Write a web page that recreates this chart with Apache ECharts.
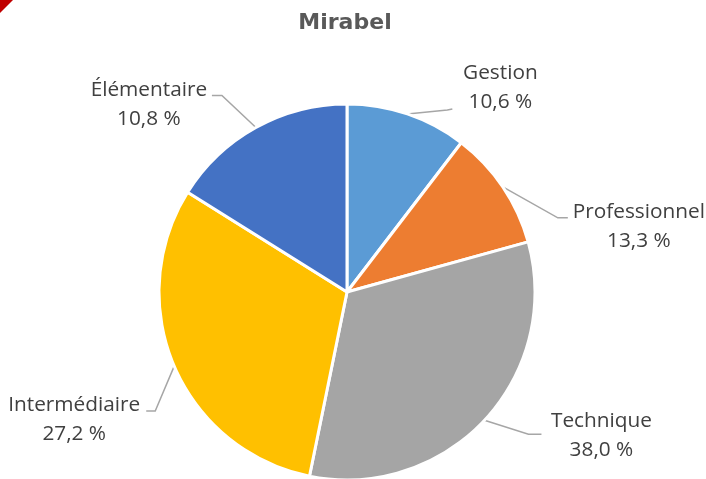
<!DOCTYPE html>
<html>
<head>
<meta charset="utf-8">
<script src="https://cdn.jsdelivr.net/npm/echarts@6/dist/echarts.min.js"></script>
<style>html,body{margin:0;padding:0;background:#fff;}#c{width:706px;height:479px;}</style>
</head>
<body>
<div id="c"></div>
<script>
// Data
const titleText = 'Mirabel';
const categories = ['Gestion', 'Professionnel', 'Technique', 'Intermédiaire', 'Élémentaire'];
// slice sizes as drawn in the picture (angles)
const values = [10.4, 10.3, 32.5, 30.7, 16.1];
// percentage labels as printed in the picture
const shareLabels = ['10,6 %', '13,3 %', '38,0 %', '27,2 %', '10,8 %'];
const colors = ['#5B9BD5', '#ED7D31', '#A5A5A5', '#FFC000', '#4472C4'];

// label layout offsets relative to the slice edge point (styling)
const leader = [
  { bend: [40, -4], end: [45, -5], label: [93, -26] },
  { bend: [55, 31], end: [65, 31], label: [136, 40] },
  { bend: [44, 14], end: [57, 14], label: [117, 15] },
  { bend: [-19, 45], end: [-28, 45], label: [-100, 53] },
  { bend: [-34, -32], end: [-44, -32], label: [-107, -23] }
];

const chart = echarts.init(document.getElementById('c'), null, { renderer: 'canvas' });
chart.setOption({
  animation: false,
  backgroundColor: '#ffffff',
  title: {
    text: titleText,
    left: 340,
    textAlign: 'center',
    top: 7,
    textStyle: { fontFamily: 'DejaVu Sans', fontWeight: 'bold', fontSize: 22, color: '#595959' }
  },
  graphic: [{
    type: 'polygon',
    shape: { points: [[0, 0], [13, 0], [0, 13]] },
    style: { fill: '#C00000' }
  }],
  series: [{
    type: 'pie',
    center: [347, 292],
    radius: 188,
    startAngle: 90,
    clockwise: true,
    data: categories.map((c, i) => ({ name: c, value: values[i], itemStyle: { color: colors[i] } })),
    itemStyle: { borderColor: '#ffffff', borderWidth: 3 },
    label: {
      show: true,
      position: 'outer',
      alignTo: 'none',
      formatter: p => p.name + '\n' + shareLabels[p.dataIndex],
      fontFamily: 'Open Sans',
      fontSize: 20.8,
      lineHeight: 29,
      color: '#404040'
    },
    labelLine: {
      show: true,
      length: 10,
      length2: 10,
      lineStyle: { color: '#A6A6A6', width: 1.5 }
    },
    labelLayout: function (params) {
      const i = params.dataIndex;
      const pts = params.labelLinePoints;
      if (!pts) return {};
      const p0 = pts[0];
      const o = leader[i];
      return {
        x: p0[0] + o.label[0],
        y: p0[1] + o.label[1],
        align: 'center',
        verticalAlign: 'middle',
        labelLinePoints: [
          [p0[0], p0[1]],
          [p0[0] + o.bend[0], p0[1] + o.bend[1]],
          [p0[0] + o.end[0], p0[1] + o.end[1]]
        ]
      };
    }
  }]
});
</script>
</body>
</html>
